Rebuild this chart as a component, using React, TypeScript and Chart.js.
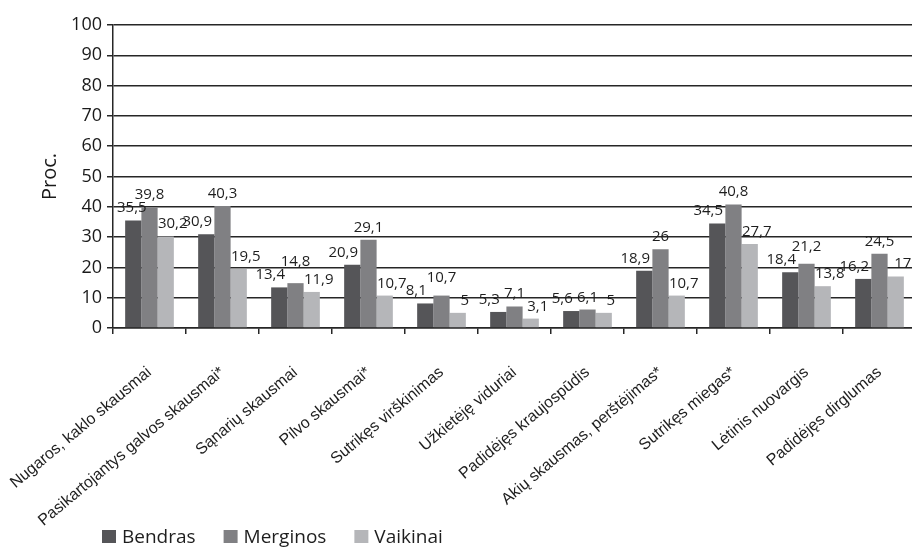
import React, { useEffect, useRef } from "react";
import { Chart, registerables } from "chart.js";

Chart.register(...registerables);

const categories = [
  "Nugaros, kaklo skausmai",
  "Pasikartojantys galvos skausmai*",
  "Sąnarių skausmai",
  "Pilvo skausmai*",
  "Sutrikęs virškinimas",
  "Užkietėję viduriai",
  "Padidėjęs kraujospūdis",
  "Akių skausmas, perštėjimas*",
  "Sutrikęs miegas*",
  "Lėtinis nuovargis",
  "Padidėjęs dirglumas",
];

const bendras = [35.5, 30.9, 13.4, 20.9, 8.1, 5.3, 5.6, 18.9, 34.5, 18.4, 16.2];
const merginos = [39.8, 40.3, 14.8, 29.1, 10.7, 7.1, 6.1, 26, 40.8, 21.2, 24.5];
const vaikinai = [30.2, 19.5, 11.9, 10.7, 5, 3.1, 5, 10.7, 27.7, 13.8, 17];

const seriesNames = ["Bendras", "Merginos", "Vaikinai"];
const seriesColors = ["#555558", "#808083", "#b5b6b9"];
const yTicks = [0, 10, 20, 30, 40, 50, 60, 70, 80, 90, 100];

const W = 920;
const H = 547;
const HUMANIST = "'Open Sans', 'Noto Sans', sans-serif";
const LABEL_DX = [-9, 0, 7];

const fmt = (v: number) => String(v).replace(".", ",");

const dataLabels = {
  id: "dataLabels",
  afterDatasetsDraw(chart: any) {
    const ctx = chart.ctx;
    ctx.save();
    ctx.font = `15px ${HUMANIST}`;
    ctx.fillStyle = "#1e1e1e";
    ctx.textAlign = "center";
    ctx.textBaseline = "alphabetic";
    const n = chart.data.labels.length;
    const order = [0, 2, 1];
    const minLeft = chart.chartArea.left + 4;
    for (let j = 0; j < n; j++) {
      const placed: { l: number; r: number; t: number; b: number }[] = [];
      order.forEach((i) => {
        const ds = chart.data.datasets[i];
        const el = chart.getDatasetMeta(i).data[j];
        const text = fmt(ds.data[j]);
        const w = ctx.measureText(text).width;
        let x = el.x + LABEL_DX[i];
        if (x - w / 2 < minLeft) x = minLeft + w / 2;
        let y = el.y - 8;
        const l = x - w / 2;
        const r = x + w / 2;
        let moved = true;
        let guard = 0;
        while (moved && guard < 10) {
          moved = false;
          guard++;
          for (const p of placed) {
            const t = y - 11;
            if (l < p.r && r > p.l && t < p.b && y > p.t) {
              y = p.t - 2;
              moved = true;
            }
          }
        }
        placed.push({ l, r, t: y - 11, b: y });
        ctx.fillText(text, x, y);
      });
    }
    ctx.restore();
  },
};

const customLegend = {
  id: "customLegend",
  afterDraw(chart: any) {
    const ctx = chart.ctx;
    ctx.save();
    ctx.font = `19px ${HUMANIST}`;
    ctx.textBaseline = "alphabetic";
    ctx.textAlign = "left";
    let x = 102;
    const baseY = 543;
    chart.data.datasets.forEach((ds: any) => {
      ctx.fillStyle = ds.backgroundColor;
      ctx.fillRect(x, baseY - 13, 14, 13);
      ctx.fillStyle = "#1e1e1e";
      ctx.fillText(ds.label, x + 20, baseY);
      x += 20 + ctx.measureText(ds.label).width + 28;
    });
    ctx.restore();
  },
};

export default function App() {
  const ref = useRef<HTMLCanvasElement | null>(null);

  useEffect(() => {
    if (!ref.current) return;
    const chart = new Chart(ref.current, {
      type: "bar",
      data: {
        labels: categories,
        datasets: [bendras, merginos, vaikinai].map((d, i) => ({
          label: seriesNames[i],
          data: d,
          backgroundColor: seriesColors[i],
          borderWidth: 0,
          categoryPercentage: 0.667,
          barPercentage: 1.0,
        })),
      },
      options: {
        responsive: false,
        animation: false,
        devicePixelRatio: 1,
        layout: { padding: { top: 25, right: 4, bottom: 0, left: 0 } },
        plugins: {
          legend: { display: false },
          tooltip: { enabled: false },
        },
        scales: {
          x: {
            offset: true,
            grid: {
              display: true,
              drawOnChartArea: false,
              drawTicks: true,
              tickLength: 6,
              color: "#262626",
              lineWidth: 1.5,
              offset: true,
            },
            border: { display: true, color: "#262626", width: 1.5 },
            ticks: {
              autoSkip: false,
              minRotation: 40,
              maxRotation: 40,
              padding: 29,
              color: "#1e1e1e",
              font: { family: "'Liberation Sans', Arial, sans-serif", size: 16 },
            },
            afterFit(scale: any) {
              scale.height = H - 328;
              scale.paddingLeft = 0;
              scale.paddingRight = 0;
            },
          },
          y: {
            min: 0,
            max: 100,
            afterBuildTicks(scale: any) {
              scale.ticks = yTicks.map((v) => ({ value: v }));
            },
            grid: {
              color: "#262626",
              lineWidth: 1.5,
              tickLength: 6,
              tickColor: "#262626",
            },
            border: { display: true, color: "#262626", width: 1.5 },
            ticks: {
              padding: 5,
              color: "#1a1a1a",
              font: { family: HUMANIST, size: 18 },
            },
            title: {
              display: true,
              text: "Proc.",
              color: "#1a1a1a",
              font: { family: HUMANIST, size: 20 },
              padding: { top: 38, bottom: 0 },
            },
            afterFit(scale: any) {
              scale.width = 113;
              scale.paddingTop = 0;
              scale.paddingBottom = 0;
            },
          },
        },
      },
      plugins: [dataLabels, customLegend],
    });
    return () => chart.destroy();
  }, []);

  return (
    <div
      style={{
        position: "fixed",
        left: 0,
        top: 0,
        width: 912,
        height: 547,
        overflow: "hidden",
        background: "#fff",
      }}
    >
      <canvas ref={ref} width={W} height={H} style={{ display: "block", width: W, height: H }} />
    </div>
  );
}
